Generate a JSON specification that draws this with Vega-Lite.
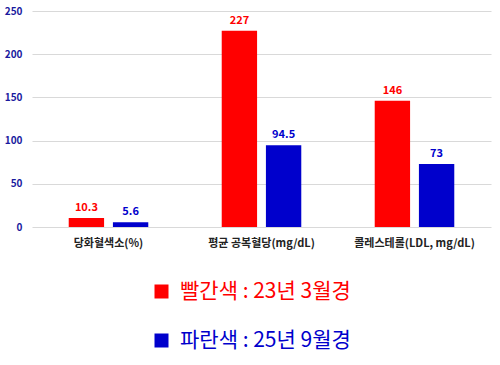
{
  "$schema": "https://vega.github.io/schema/vega-lite/v6.json",
  "width": 459,
  "height": 216,
  "autosize": "none",
  "padding": {"left": 32, "top": 11, "right": 9, "bottom": 138},
  "config": {"view": {"stroke": null}, "font": "Noto Sans CJK KR"},
  "data": {"values": [
    {"category": "당화혈색소(%)", "series": "빨간색 : 23년 3월경", "value": 10.3},
    {"category": "당화혈색소(%)", "series": "파란색 : 25년 9월경", "value": 5.6},
    {"category": "평균 공복혈당(mg/dL)", "series": "빨간색 : 23년 3월경", "value": 227},
    {"category": "평균 공복혈당(mg/dL)", "series": "파란색 : 25년 9월경", "value": 94.5},
    {"category": "콜레스테롤(LDL, mg/dL)", "series": "빨간색 : 23년 3월경", "value": 146},
    {"category": "콜레스테롤(LDL, mg/dL)", "series": "파란색 : 25년 9월경", "value": 73}
  ]},
  "encoding": {
    "x": {"field": "category", "type": "nominal", "sort": null,
      "scale": {"paddingInner": 0.48, "paddingOuter": 0.24},
      "axis": {"title": null, "labelAngle": 0, "labelFontSize": 11, "labelFontWeight": "bold", "labelColor": "#222222", "labelPadding": 10, "ticks": false, "domain": false}},
    "xOffset": {"field": "series", "type": "nominal", "sort": null, "scale": {"paddingInner": 0.2}},
    "y": {"field": "value", "type": "quantitative",
      "scale": {"domain": [0, 250]},
      "axis": {"title": null, "values": [0, 50, 100, 150, 200, 250], "grid": true, "gridColor": "#d9d9d9", "domain": false, "ticks": false, "labelColor": "#1a1a9e", "labelFontWeight": "bold", "labelFontSize": 10, "labelPadding": 10}},
    "color": {"field": "series", "type": "nominal",
      "scale": {"domain": ["빨간색 : 23년 3월경", "파란색 : 25년 9월경"], "range": ["#ff0000", "#0000cc"]},
      "legend": {"title": null, "orient": "none", "legendX": 119, "legendY": 270, "direction": "vertical",
        "symbolType": "square", "symbolSize": 196, "symbolStrokeWidth": 0, "labelFontSize": 21, "labelOffset": 8,
        "rowPadding": 27, "labelLimit": 400,
        "encode": {"labels": {"update": {"fill": {"signal": "datum.value === '빨간색 : 23년 3월경' ? '#ff0000' : '#0000cc'"}}}}}}
  },
  "layer": [
    {"mark": {"type": "bar"}},
    {"mark": {"type": "text", "dy": -7, "baseline": "alphabetic", "fontWeight": "bold", "fontSize": 11},
     "encoding": {"text": {"field": "value", "type": "nominal"}}}
  ]
}
